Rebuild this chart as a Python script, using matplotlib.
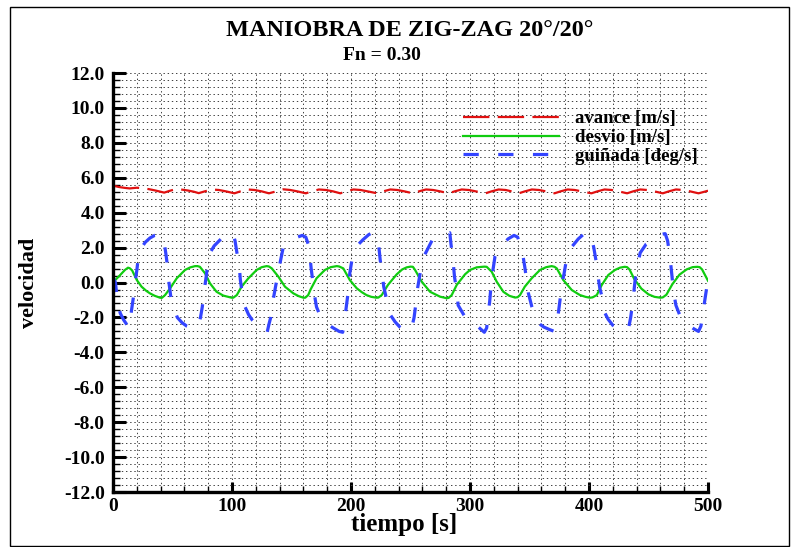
import matplotlib
matplotlib.use("Agg")
import matplotlib.pyplot as plt
from matplotlib.ticker import MultipleLocator, FormatStrFormatter
from matplotlib.patches import Rectangle

plt.rcParams["font.family"] = ["Liberation Serif", "DejaVu Serif"]
plt.rcParams["font.weight"] = "bold"
plt.rcParams["lines.scale_dashes"] = False

# avance (surge velocity) [m/s]
t_avance = [0, 5, 10, 14, 20, 25, 30, 35, 40, 43, 48, 53, 58, 63, 68, 72, 77, 83, 89, 95,
            102, 107, 113, 119, 125, 131, 137, 143, 149, 155, 162, 167, 173, 179, 185, 191,
            196, 202, 208, 214, 222, 227, 233, 239, 245, 252, 257, 263, 269, 275, 282, 287,
            293, 299, 305, 313, 318, 324, 330, 335, 341, 346, 352, 358, 364, 371, 376, 382,
            388, 394, 402, 407, 413, 419, 425, 432, 437, 443, 449, 455, 462, 467, 473, 479,
            485, 492, 497, 500]
avance = [5.55, 5.47, 5.42, 5.39, 5.43, 5.40, 5.35, 5.28, 5.20, 5.15, 5.26, 5.35, 5.32, 5.27,
          5.20, 5.12, 5.22, 5.33, 5.30, 5.22, 5.11, 5.22, 5.33, 5.30, 5.22, 5.11, 5.22, 5.34,
          5.30, 5.22, 5.11, 5.22, 5.33, 5.30, 5.22, 5.11, 5.22, 5.33, 5.30, 5.22, 5.11, 5.22,
          5.33, 5.30, 5.22, 5.11, 5.22, 5.33, 5.30, 5.22, 5.11, 5.22, 5.33, 5.30, 5.22, 5.11,
          5.22, 5.33, 5.30, 5.22, 5.11, 5.22, 5.33, 5.30, 5.22, 5.11, 5.22, 5.33, 5.30, 5.22,
          5.11, 5.22, 5.33, 5.30, 5.22, 5.11, 5.22, 5.33, 5.30, 5.22, 5.11, 5.22, 5.33, 5.30,
          5.22, 5.11, 5.20, 5.26]

# desvio (sway velocity) [m/s]
t_desvio = [0, 2, 6, 10, 12.6, 14, 16, 20, 24, 28, 31, 35, 39.5, 41, 43.7, 48, 53.5, 60.5,
            65, 69, 71, 73, 77.3, 81.5, 87, 92.7, 99.7, 101, 104, 108, 113.7, 120.7, 125,
            129, 131, 133.4, 139, 144.5, 151.5, 156, 160, 161.5, 164, 166, 171, 178, 183,
            188, 190, 193.5, 199, 204.8, 209, 213, 217, 221.6, 223, 225.8, 231, 238.4, 243,
            246.8, 250, 252, 253.8, 259.4, 266.4, 274.8, 280.4, 282, 284.6, 288.8, 295.8,
            300, 305.6, 312, 314, 318.2, 322.4, 328, 333, 337.8, 340, 342, 346, 351.8,
            358.8, 364, 368.6, 371, 372.9, 378.4, 385.5, 392.4, 397, 400.8, 403, 406.5,
            410.7, 416.2, 421.8, 426, 430, 432, 434, 438, 444, 450, 455, 460, 462, 465,
            470, 476, 482, 487, 491, 493, 495, 500]
desvio = [0.0, 0.15, 0.43, 0.72, 0.85, 0.82, 0.70, 0.14, -0.24, -0.48, -0.62, -0.76, -0.87,
          -0.88, -0.72, -0.33, 0.24, 0.72, 0.87, 0.94, 0.94, 0.90, 0.53, -0.05, -0.53, -0.75,
          -0.87, -0.87, -0.72, -0.24, 0.24, 0.72, 0.88, 0.94, 0.92, 0.81, 0.33, -0.24, -0.62,
          -0.78, -0.87, -0.87, -0.72, -0.40, 0.24, 0.72, 0.88, 0.94, 0.92, 0.81, 0.14, -0.33,
          -0.55, -0.72, -0.82, -0.87, -0.86, -0.72, -0.14, 0.47, 0.75, 0.87, 0.91, 0.90,
          0.72, 0.05, -0.53, -0.81, -0.90, -0.88, -0.72, -0.14, 0.47, 0.72, 0.87, 0.91, 0.90,
          0.62, 0.05, -0.53, -0.76, -0.86, -0.84, -0.72, -0.24, 0.24, 0.72, 0.88, 0.94, 0.90,
          0.81, 0.14, -0.43, -0.72, -0.82, -0.87, -0.85, -0.72, -0.14, 0.43, 0.72, 0.85, 0.90,
          0.88, 0.75, 0.20, -0.35, -0.68, -0.82, -0.87, -0.85, -0.70, -0.10, 0.45, 0.75,
          0.88, 0.90, 0.88, 0.75, 0.10]

# guinada (yaw rate) [deg/s]
t_guinada = [0, 2, 3.5, 6, 9, 12, 13.5, 14.5, 15.5, 17, 18.5, 20, 21.5, 24, 27, 31, 35, 39,
             41, 43, 44.5, 46, 47, 48.5, 50, 54, 58, 62, 66, 69, 72, 73.5, 75, 76.5, 78,
             79.5, 81.5, 85, 91.5, 95, 98, 101, 102.5, 104, 106, 107, 108.5, 111, 114, 117,
             122, 127, 129.5, 131, 132.5, 134, 136, 138, 140, 143, 149, 155, 159, 162, 164,
             165.5, 166.5, 168, 169.5, 171, 174, 178, 185, 190, 193, 194.5, 196, 197.5, 199,
             201, 205, 210, 215, 218, 221, 223, 224.5, 226, 227.5, 230, 233, 237, 241, 245,
             248, 251, 253, 254.5, 256, 258, 260, 262, 268, 275, 281, 283, 284, 285.5, 287,
             289, 290, 296, 302, 307, 312, 314, 315, 316.5, 317.5, 319, 321, 325, 332, 337,
             340, 342, 344, 346, 347.5, 349, 352, 356, 362, 367, 371, 373, 374.5, 376, 377.5,
             379, 381, 385, 391, 396, 399, 402, 404, 406, 407.5, 409, 411, 413, 416, 420,
             425, 430, 433, 435, 437, 438.5, 440, 443, 448, 455, 460, 464, 466, 468, 469.5,
             471, 473, 477, 483, 488, 492, 494, 496, 498, 500]
guinada = [0.3, 0.0, -0.9, -1.75, -2.15, -2.45, -2.6, -2.3, -1.6, -0.9, 0.0, 0.7, 1.6, 2.0,
           2.3, 2.55, 2.7, 2.75, 2.7, 2.3, 1.6, 0.8, 0.0, -0.8, -1.25, -2.0, -2.3, -2.5, -2.6,
           -2.65, -2.4, -2.0, -1.4, -0.5, 0.2, 1.0, 1.7, 2.1, 2.55, 2.75, 2.85, 2.75, 2.4,
           1.75, 1.0, 0.15, -0.6, -1.4, -1.85, -2.15, -2.5, -2.8, -2.85, -2.4, -2.0, -1.2,
           -0.45, 0.3, 1.0, 2.0, 2.35, 2.6, 2.7, 2.6, 2.2, 1.5, 0.8, 0.0, -0.8, -1.4, -1.9,
           -2.3, -2.6, -2.8, -2.85, -2.2, -1.4, -0.6, 0.55, 1.4, 2.1, 2.45, 2.75, 2.85, 2.75,
           2.3, 1.3, 0.6, -0.25, -1.0, -1.85, -2.25, -2.55, -2.75, -2.8, -2.6, -2.0, -1.2,
           -0.3, 0.5, 1.2, 1.6, 2.4, 2.65, 2.8, 2.85, 2.2, 1.4, 0.3, -0.55, -1.3, -2.0, -2.35,
           -2.55, -2.85, -2.6, -1.9, -1.1, -0.3, 0.6, 1.5, 2.0, 2.5, 2.7, 2.6, 2.2, 1.75, 0.9,
           0.15, -0.6, -1.4, -2.25, -2.55, -2.7, -2.8, -2.4, -1.6, -0.8, 0.0, 0.5, 1.3, 2.0,
           2.5, 2.8, 2.85, 2.6, 2.0, 1.2, 0.4, -0.3, -0.85, -1.7, -2.1, -2.45, -2.65, -2.75,
           -2.7, -2.0, -1.0, 0.0, 0.8, 1.7, 2.2, 2.55, 2.75, 2.8, 2.4, 1.5, 0.5, -0.5, -1.3,
           -2.0, -2.4, -2.65, -2.8, -2.5, -1.6, -0.7, 0.2]

y_ticks = [-12, -10, -8, -6, -4, -2, 0, 2, 4, 6, 8, 10, 12]
x_ticks = [0, 100, 200, 300, 400, 500]

fig = plt.figure(figsize=(7.91, 5.47), dpi=100)
ax = fig.add_axes([0.1429, 0.1005, 0.7522, 0.766])

# whole-figure frame
fig.patches.append(Rectangle((0.0126, 0.002), 0.985, 0.985, transform=fig.transFigure,
                             fill=False, edgecolor="black", linewidth=1.0))

ax.plot(t_avance, avance, color="#e01010", linewidth=1.6, dashes=(19, 6), label="avance [m/s]")
ax.plot(t_desvio, desvio, color="#10cc10", linewidth=1.6, label="desvio [m/s]")
ax.plot(t_guinada, guinada, color="#3344ff", linewidth=2.3, dashes=(11, 14), label="guiñada [deg/s]")

ax.set_xlim(0, 500)
ax.set_ylim(-12, 12)
ax.set_yticks(y_ticks)
ax.set_xticks(x_ticks)
ax.yaxis.set_minor_locator(MultipleLocator(0.4))
ax.xaxis.set_minor_locator(MultipleLocator(20))
ax.yaxis.set_major_formatter(FormatStrFormatter("%.1f"))

ax.grid(which="both", color="0.25", linestyle=(0, (1, 2)), linewidth=0.7)
ax.set_axisbelow(True)

for side in ["top", "right"]:
    ax.spines[side].set_visible(False)
for side in ["left", "bottom"]:
    ax.spines[side].set_linewidth(2.4)

ax.tick_params(which="major", direction="in", length=9, width=2.2, labelsize=14, pad=6)
ax.tick_params(which="minor", direction="in", length=5, width=1.0)
ax.tick_params(axis="x", which="major", length=7, pad=4)
ax.tick_params(axis="x", which="minor", length=4)
for lab in ax.get_xticklabels() + ax.get_yticklabels():
    lab.set_fontweight("bold")

ax.set_xlabel("tiempo [s]", fontsize=18, fontweight="bold")
ax.set_ylabel("velocidad", fontsize=16, fontweight="bold")
ax.xaxis.set_label_coords(0.49, -0.05)
ax.yaxis.set_label_coords(-0.125, 0.5)

fig.text(0.518, 0.945, "MANIOBRA DE ZIG-ZAG 20°/20°", ha="center", va="center",
         fontsize=17.5, fontweight="bold")
fig.text(0.483, 0.899, "Fn = 0.30", ha="center", va="center", fontsize=14, fontweight="bold")

ax.legend(loc="upper left", bbox_to_anchor=(0.588, 0.911), frameon=False, fontsize=13.5,
          handlelength=5.1, handletextpad=0.9, labelspacing=0.08, borderpad=0,
          borderaxespad=0)

fig.savefig("out.png", dpi=100)
